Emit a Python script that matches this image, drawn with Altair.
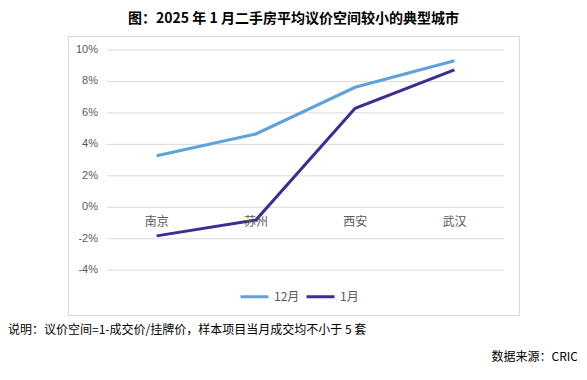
import altair as alt
import pandas as pd

cities = ["南京", "苏州", "西安", "武汉"]
dec_values = [3.28, 4.66, 7.63, 9.32]
jan_values = [-1.82, -0.81, 6.29, 8.73]
series_names = ["12月", "1月"]
series_colors = ["#5fa2db", "#3a2d94"]
y_ticks = [-4, -2, 0, 2, 4, 6, 8, 10]
title_text = "图：2025 年 1 月二手房平均议价空间较小的典型城市"
note_text = "说明：议价空间=1-成交价/挂牌价，样本项目当月成交均不小于 5 套"
source_text = "数据来源：CRIC"

rows = []
for i, c in enumerate(cities):
    rows.append({"idx": i, "city": c, "series": series_names[0], "v": dec_values[i]})
    rows.append({"idx": i, "city": c, "series": series_names[1], "v": jan_values[i]})
df = pd.DataFrame(rows)
cat_df = pd.DataFrame({"idx": list(range(len(cities))), "city": cities, "zero": [0] * len(cities)})
grid_df = pd.DataFrame({"y": y_ticks, "x0": [-0.5] * len(y_ticks), "x1": [len(cities) - 0.5] * len(y_ticks),
                        "label": [f"{t}%" for t in y_ticks]})

xs = alt.Scale(domain=[-0.893, 3.651], nice=False, zero=False)
ys = alt.Scale(domain=[-6.85, 10.89], nice=False, zero=False)

grid = alt.Chart(grid_df).mark_rule(color="#d9d9d9", strokeWidth=1).encode(
    x=alt.X("x0:Q", scale=xs, axis=None),
    x2="x1:Q",
    y=alt.Y("y:Q", scale=ys, axis=None),
)
ylab = alt.Chart(grid_df).mark_text(align="right", baseline="middle", dx=-9, fontSize=11,
                                    font="Liberation Sans", color="#595959").encode(
    x=alt.X("x0:Q", scale=xs, axis=None),
    y=alt.Y("y:Q", scale=ys, axis=None),
    text="label:N",
)
lines = alt.Chart(df).mark_line(strokeWidth=3).encode(
    x=alt.X("idx:Q", scale=xs, axis=None),
    y=alt.Y("v:Q", scale=ys, axis=None),
    color=alt.Color("series:N", sort=series_names,
                    scale=alt.Scale(domain=series_names, range=series_colors),
                    legend=alt.Legend(title=None, orient="none", direction="horizontal",
                                      legendX=171, legendY=245, symbolType="stroke",
                                      symbolStrokeWidth=3, symbolSize=784, labelFontSize=12,
                                      labelFont="Noto Sans CJK SC", labelColor="#595959",
                                      columnPadding=0, labelOffset=4)),
    order="idx:Q",
)
xlab = alt.Chart(cat_df).mark_text(baseline="middle", dy=15, fontSize=12,
                                   font="Noto Sans CJK SC", color="#595959").encode(
    x=alt.X("idx:Q", scale=xs, axis=None),
    y=alt.Y("zero:Q", scale=ys, axis=None),
    text="city:N",
)
note = alt.Chart(pd.DataFrame({"t": [note_text]})).mark_text(
    align="left", baseline="middle", fontSize=12, font="Noto Sans CJK SC", color="#000000"
).encode(x=alt.value(-60), y=alt.value(294), text="t:N")
source = alt.Chart(pd.DataFrame({"t": [source_text]})).mark_text(
    align="right", baseline="middle", fontSize=12, font="Noto Sans CJK SC", color="#000000"
).encode(x=alt.value(510), y=alt.value(321), text="t:N")

chart = alt.layer(grid, ylab, lines, xlab, note, source).properties(
    width=451, height=279,
    title=alt.TitleParams(title_text, fontSize=14, font="Noto Sans CJK SC", fontWeight="bold",
                          color="#000000", anchor="middle", baseline="middle", offset=3),
    autosize=alt.AutoSizeParams(type="none"),
    padding={"left": 60, "top": 28, "right": 58, "bottom": 55},
).configure_view(stroke="#d9d9d9", strokeWidth=1)

chart.save("out.html", embed_options={"renderer": "svg", "actions": False})
